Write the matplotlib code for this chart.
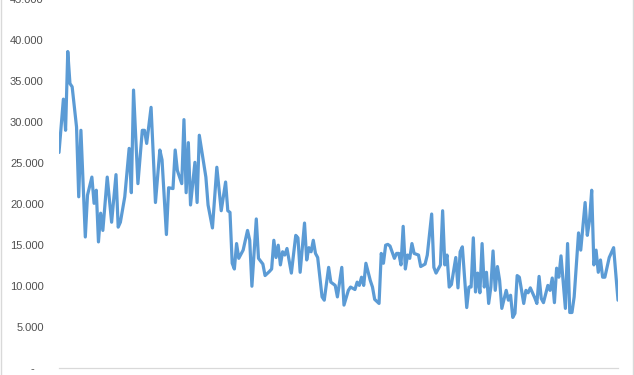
import matplotlib
matplotlib.use("Agg")
import matplotlib.pyplot as plt
from matplotlib.lines import Line2D
from matplotlib.ticker import FuncFormatter

# Values (week index along the axis, value on the y axis)
week = [0, 2, 3, 4, 5, 6, 8, 9, 10, 12, 13, 15, 16, 17, 18, 19, 20, 22, 24, 26,
        27, 28, 30, 32, 33, 34, 36, 38, 39, 40, 42, 44, 46, 47, 49, 50, 52, 53, 54, 56,
        57, 58, 59, 60, 62, 63, 64, 66, 67, 68, 70, 72, 74, 76, 77, 78, 79, 80, 81, 82,
        84, 86, 87, 88, 90, 91, 93, 94, 96, 97, 98, 99, 100, 101, 102, 103, 104, 106, 108, 109,
        110, 112, 113, 114, 115, 116, 117, 118, 120, 121, 123, 124, 126, 127, 129, 130, 132, 133, 135, 136,
        137, 138, 139, 140, 142, 143, 144, 146, 147, 148, 149, 150, 151, 153, 154, 155, 156, 157, 158, 159,
        160, 161, 162, 164, 165, 167, 168, 170, 171, 172, 174, 175, 176, 177, 178, 179, 181, 182, 183, 184,
        186, 187, 188, 189, 190, 191, 192, 193, 194, 195, 196, 197, 198, 199, 200, 201, 202, 204, 205, 206,
        207, 208, 209, 210, 212, 213, 214, 215, 217, 218, 219, 220, 221, 223, 224, 225, 226, 227, 228, 229,
        231, 232, 233, 234, 235, 237, 238, 240, 241, 242, 243, 244, 245, 246, 247, 248, 249, 251, 253, 255]
value = [26300, 32800, 29000, 38600, 34700, 34300, 29400, 20900, 29000, 16000,
         21100, 23300, 20100, 21700, 15400, 18900, 16800, 23300, 17800, 23600,
         17200, 17800, 20900, 26800, 21400, 33900, 22500, 29000, 29000, 27400,
         31800, 20200, 26600, 25400, 16300, 22000, 21900, 26600, 24100, 22500,
         30300, 21400, 27500, 19900, 25100, 20200, 28400, 25000, 23300, 19900,
         17100, 24500, 19200, 22700, 19200, 19000, 12800, 12100, 15200, 13400,
         14400, 16800, 15600, 10000, 18200, 13400, 12700, 11300, 11800, 12100,
         15600, 13500, 15000, 12600, 14200, 13800, 14600, 11600, 16200, 15900,
         11700, 17700, 13200, 14700, 14200, 15600, 14000, 13500, 8700, 8300,
         12300, 10500, 10100, 8700, 12300, 7700, 9500, 9900, 9600, 10500,
         10100, 11100, 10100, 12800, 10700, 9900, 8400, 7900, 14000, 12800,
         15000, 15100, 14900, 13400, 14000, 14000, 12600, 17300, 12100, 13800,
         13400, 15200, 14000, 13800, 12400, 12700, 13800, 18800, 12300, 11600,
         12600, 19200, 12600, 13800, 9900, 10200, 13500, 9800, 14200, 14800,
         7400, 9900, 9900, 15900, 9300, 11600, 9200, 15200, 9900, 11700,
         7900, 9900, 14300, 9500, 12400, 10700, 7300, 9500, 8300, 8900,
         6200, 6700, 11300, 11100, 7900, 9500, 9200, 9800, 8600, 7900,
         11200, 8500, 8000, 10100, 9500, 11000, 8000, 12200, 11100, 13700,
         7300, 15200, 6800, 6800, 8700, 16500, 14400, 20200, 16200, 18000,
         21700, 12600, 14400, 11700, 13200, 11100, 11100, 13500, 14700, 8300]
y_ticks = [0, 5000, 10000, 15000, 20000, 25000, 30000, 35000, 40000, 45000]

plt.rcParams['font.family'] = ['Liberation Sans', 'DejaVu Sans']

fig = plt.figure(figsize=(6.34, 3.75), dpi=100)
ax = fig.add_axes([59 / 634, 6.7 / 375, 559 / 634, 369.3 / 375])

ax.plot(week, value, color='#5B9BD5', lw=2.3, solid_joinstyle='round', solid_capstyle='round')

ax.set_xlim(0, 255)
ax.set_ylim(0, 45000)
ax.set_xticks([])
ax.set_yticks(y_ticks)


def excel_fmt(v, pos):
    if v == 0:
        return '-   '
    return f'{int(v):,}'.replace(',', '.')


ax.yaxis.set_major_formatter(FuncFormatter(excel_fmt))
ax.tick_params(axis='y', length=0, pad=11, labelsize=8, labelcolor='#505050')

for s in ['top', 'right', 'left']:
    ax.spines[s].set_visible(False)
ax.spines['bottom'].set_color('#D9D9D9')
ax.spines['bottom'].set_linewidth(0.9)

# chart area border (left and right edges are what is visible)
fig.add_artist(Line2D([1.2 / 634, 1.2 / 634], [0, 1], color='#D9D9D9', lw=1.0))
fig.add_artist(Line2D([632.5 / 634, 632.5 / 634], [0, 1], color='#D9D9D9', lw=1.0))

fig.savefig('out.png', dpi=100)
